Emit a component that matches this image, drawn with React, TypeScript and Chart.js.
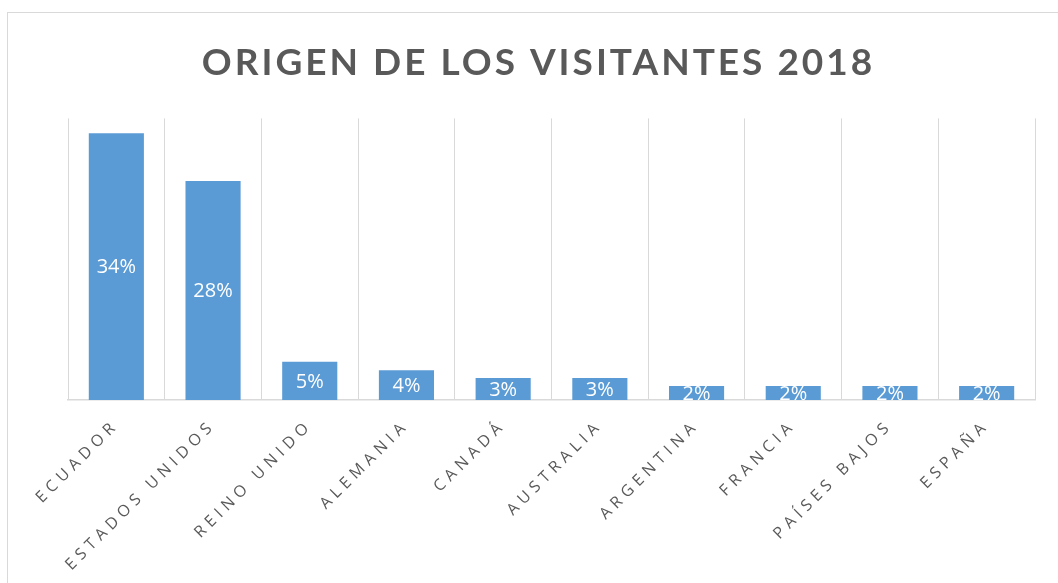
import React, { useEffect, useRef } from 'react';
import { Chart, registerables } from 'chart.js';

Chart.register(...registerables);

const titleText = 'ORIGEN DE LOS VISITANTES 2018';
const categories = [
  'ECUADOR',
  'ESTADOS UNIDOS',
  'REINO UNIDO',
  'ALEMANIA',
  'CANADÁ',
  'AUSTRALIA',
  'ARGENTINA',
  'FRANCIA',
  'PAÍSES BAJOS',
  'ESPAÑA',
];
const shares = [34.1, 28.0, 4.9, 3.8, 2.8, 2.8, 1.8, 1.8, 1.8, 1.8];
const yMax = 36;

const TITLE_SPACING = '3px';
const TICK_SPACING = '5px';

const spacingPlugin = {
  id: 'spacing',
  beforeLayout(chart: any) {
    chart.ctx.letterSpacing = TICK_SPACING;
  },
  beforeDraw(chart: any) {
    chart.ctx.letterSpacing = TITLE_SPACING;
    const xs = chart.scales.x;
    if (xs && !xs.__spaced) {
      const orig = xs.drawLabels;
      xs.drawLabels = function (area: any) {
        const c = this.ctx;
        const prev = c.letterSpacing;
        c.letterSpacing = TICK_SPACING;
        orig.call(this, area);
        c.letterSpacing = prev;
      };
      xs.__spaced = true;
    }
  },
};

const barLabels = {
  id: 'barLabels',
  afterDatasetsDraw(chart: any) {
    const { ctx, chartArea } = chart;
    const meta = chart.getDatasetMeta(0);
    ctx.save();
    ctx.beginPath();
    ctx.rect(chartArea.left, chartArea.top, chartArea.right - chartArea.left, chartArea.bottom - chartArea.top);
    ctx.clip();
    ctx.letterSpacing = '0px';
    ctx.font = '20px "Open Sans"';
    ctx.fillStyle = '#ffffff';
    ctx.textAlign = 'center';
    ctx.textBaseline = 'middle';
    meta.data.forEach((bar: any, i: number) => {
      const p = bar.getProps(['x', 'y', 'base'], true);
      ctx.fillText(Math.round(shares[i]) + '%', p.x, (p.y + p.base) / 2 + 1);
    });
    ctx.restore();
  },
};

export default function App() {
  const ref = useRef<HTMLCanvasElement>(null);
  useEffect(() => {
    const canvas = ref.current!;
    const chart = new Chart(canvas, {
      type: 'bar',
      data: {
        labels: categories,
        datasets: [
          {
            data: shares,
            backgroundColor: '#5B9BD5',
            borderWidth: 0,
            categoryPercentage: 1,
            barPercentage: 0.57,
          },
        ],
      },
      options: {
        responsive: false,
        animation: false,
        devicePixelRatio: 1,
        layout: { padding: { left: 42, right: 23, top: 0, bottom: 0 } },
        plugins: {
          legend: { display: false },
          tooltip: { enabled: false },
          title: {
            display: true,
            text: titleText,
            color: '#595959',
            font: { family: 'Lato', size: 37, weight: 'bold', lineHeight: 1.2 },
            padding: { top: 41, bottom: 33 },
          },
        },
        scales: {
          x: {
            grid: { display: true, color: '#D9D9D9', lineWidth: 1, drawTicks: false, offset: true },
            border: { display: true, color: '#D9D9D9', width: 1.5 },
            ticks: {
              color: '#595959',
              font: { family: 'Open Sans', size: 16 },
              minRotation: 45,
              maxRotation: 45,
              autoSkip: false,
              padding: 16,
            },
            afterFit(scale: any) {
              scale.height = 183;
            },
          },
          y: {
            display: true,
            min: 0,
            max: yMax,
            grid: { display: false },
            border: { display: false },
            ticks: { display: false },
            afterFit(scale: any) {
              scale.width = 26;
            },
          },
        },
      },
      plugins: [spacingPlugin, barLabels],
    });
    return () => chart.destroy();
  }, []);

  return (
    <div style={{ position: 'fixed', left: 0, top: 0, width: 1058, height: 583, overflow: 'hidden', background: '#fff' }}>
      <div
        style={{
          position: 'absolute',
          left: 7,
          top: 12,
          width: 1100,
          height: 620,
          border: '1px solid #D9D9D9',
          boxSizing: 'border-box',
        }}
      />
      <canvas ref={ref} width={1058} height={583} style={{ position: 'absolute', left: 0, top: 0, width: 1058, height: 583 }} />
    </div>
  );
}
